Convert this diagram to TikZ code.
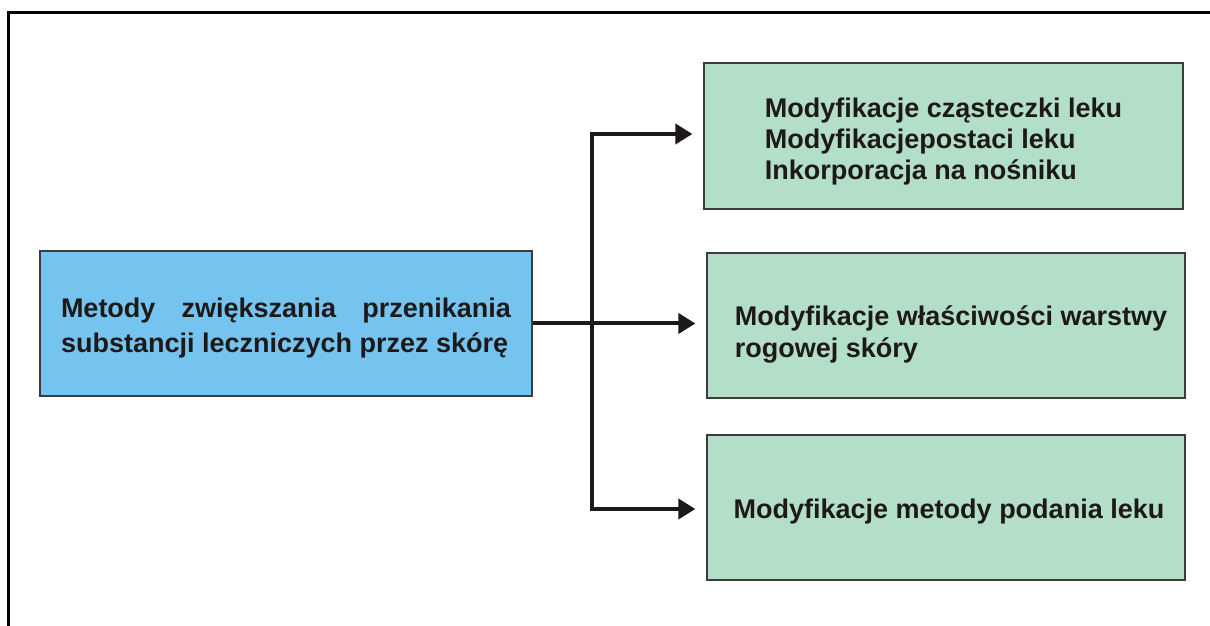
\documentclass[tikz,border=0pt]{standalone}
\usepackage{fontspec}
\setmainfont{Liberation Sans}
\usetikzlibrary{arrows.meta}
\definecolor{boxblue}{RGB}{117,196,240}
\definecolor{boxgreen}{RGB}{179,222,200}
\definecolor{boxline}{RGB}{60,60,60}
\definecolor{inkblack}{RGB}{30,25,25}
\begin{document}
\begin{tikzpicture}[x=1pt,y=1pt,
	>={Triangle[length=17pt,width=20pt]},
	box/.style={draw=boxline,line width=1.3pt,rectangle,inner sep=0pt},
	mainbox/.style={box,fill=boxblue,minimum width=492pt,minimum height=145pt},
	methodbox/.style={box,fill=boxgreen,minimum width=478pt,minimum height=145pt},
	boxtext/.style={inner sep=0pt,text=inkblack,align=left,
		font=\bfseries\fontsize{27}{31}\selectfont},
	link/.style={->,line width=4pt,draw=inkblack,shorten >=11pt}]
\useasboundingbox (0,0) rectangle (1210,626);
% frame
\draw[line width=3pt] (8,0) -- (8,613) -- (1210,613);
% boxes
\node[mainbox] (methods) at (286,302.5) {};
\node[methodbox,minimum width=479pt,minimum height=146pt] (drug) at (943.5,490) {};
\node[methodbox] (skin) at (946,300.5) {};
\node[methodbox] (route) at (946,118.5) {};
% texts
\node[boxtext,font=\bfseries\fontsize{27}{35}\selectfont] (methods-text)
	at ([yshift=-5pt]methods.center)
	{\makebox[450pt][s]{Metody zwiększania przenikania}\\substancji leczniczych przez skórę};
\node[boxtext] (drug-text) at ([yshift=-6pt]drug.center)
	{Modyfikacje cząsteczki leku\\Modyfikacjepostaci leku\\Inkorporacja na nośniku};
\node[boxtext,font=\bfseries\fontsize{27}{32}\selectfont] (skin-text)
	at ([xshift=5pt,yshift=-9pt]skin.center)
	{Modyfikacje właściwości warstwy\\rogowej skóry};
\node[boxtext] (route-text) at ([xshift=3pt,yshift=-4pt]route.center)
	{Modyfikacje metody podania leku};
% connectors
\coordinate (split) at (592,302.5);
\draw[link] (methods.east) -- (methods.east -| skin.west);
\draw[link,line join=miter] (split) |- ([yshift=2pt]drug.west);
\draw[link,line join=miter] (split) |- ([yshift=-1.5pt]route.west);
\end{tikzpicture}
\end{document}
